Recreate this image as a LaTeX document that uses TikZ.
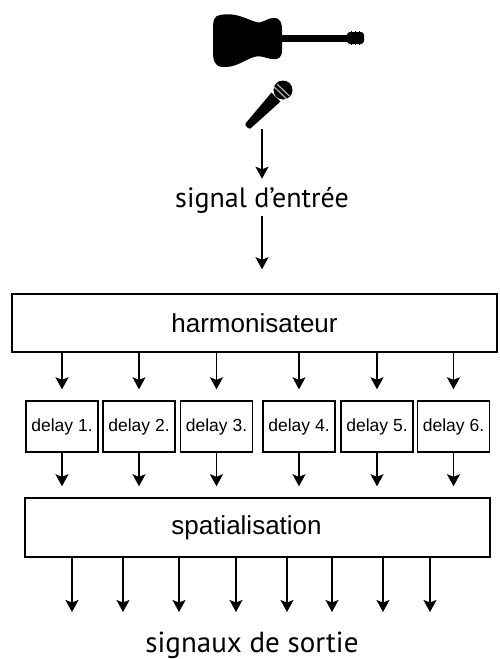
\documentclass[tikz,border=0pt]{standalone}
\usepackage{fontspec}
\setmainfont{Liberation Sans}
\newfontfamily\handfont{PT Sans}
\usetikzlibrary{arrows.meta}

\tikzset{
  sig/.style={-{Stealth[length=12pt,width=13pt,inset=2.5pt]}, line width=1.4pt},
  bigbox/.style={draw, line width=1.5pt, inner sep=0pt, minimum height=58pt,
                 font=\fontsize{26}{30}\selectfont},
  delaybox/.style={draw, line width=1.4pt, inner sep=0pt, minimum width=72pt,
                   minimum height=51pt, font=\fontsize{17.5}{20}\selectfont},
  bigtext/.style={inner sep=0pt, font=\handfont\fontsize{28}{32}\selectfont}
}

\begin{document}
\begin{tikzpicture}[x=1pt, y=-1pt]
            \useasboundingbox (0,0) rectangle (499,659);

            % guitare
            \fill (220,15) .. controls (236,12) and (246,19) .. (256,22)
                .. controls (263,24) and (266,18) .. (274,18)
                .. controls (281,18) and (282,24) .. (282,30) -- (282,50)
                .. controls (282,57) and (279,60) .. (272,59)
                .. controls (264,58) and (262,55) .. (254,57)
                .. controls (244,60) and (236,68) .. (222,67)
                .. controls (214,66) and (213,60) .. (213,50) -- (213,30)
                .. controls (213,20) and (214,16) .. (220,15) -- cycle;
            \fill (280,35) rectangle (350,42);
            \fill[rounded corners=3pt] (347,32) rectangle (364,44);
            \foreach \p in {351,355,359}
                {
                    \draw[line width=0.7pt] (\p,31) -- (\p,45);
                }

            % micro
            \fill[line join=round] (280.5,101.5) -- (271.5,92.5) -- (245.5,123.5)
                .. controls (244.5,125.5) and (248.5,129.5) .. (250.5,128.5) -- cycle;
            \fill (283,90) circle (9.5);
            \draw[gray!60, line width=1.2pt] (274.2,86.9) -- (286.8,99.1);
            \draw[gray!60, line width=1.2pt] (277.2,84.2) -- (289.4,96.0);
            \coordinate (mic) at (262,129);

            \node[bigtext] (sigin) at (262,200) {signal d’entrée};
            \node[bigbox, minimum width=485pt] (harm) at (254.5,323) {harmonisateur};

            \draw[sig, shorten >=8pt] (mic) -- (mic |- sigin.north);
            \draw[sig, shorten <=3pt, shorten >=24pt] (sigin.south) -- (sigin.south |- harm.north);

            \foreach \n/\x in {1/62,2/139,3/216.5,4/299,5/377,6/453.5}
                {
                    \node[delaybox] (d\n) at (\x,426.5) {delay \n.};
                }

            \node[bigbox, minimum width=465pt, minimum height=59pt] (spat) at (257.5,527.5) {};
            \node[font=\fontsize{26}{30}\selectfont, inner sep=0pt] (spattext) at ([xshift=-11pt]spat.center) {spatialisation};

            \foreach \n in {1,...,6}
                {
                    \draw[sig, shorten >=11pt] (harm.south -| d\n) -- (d\n.north);
                    \draw[sig, shorten >=11pt] (d\n.south) -- (spat.north -| d\n);
                }

            \foreach \k/\x in {1/72,2/123,3/179,4/236,5/287,6/332,7/383,8/430}
                {
                    \coordinate (o\k) at (\x,612);
                    \draw[sig] (spat.south -| o\k) -- (o\k);
                }

            \node[bigtext, font=\handfont\fontsize{29}{32}\selectfont] (sigout) at (252,645) {signaux de sortie};
\end{tikzpicture}
\end{document}
